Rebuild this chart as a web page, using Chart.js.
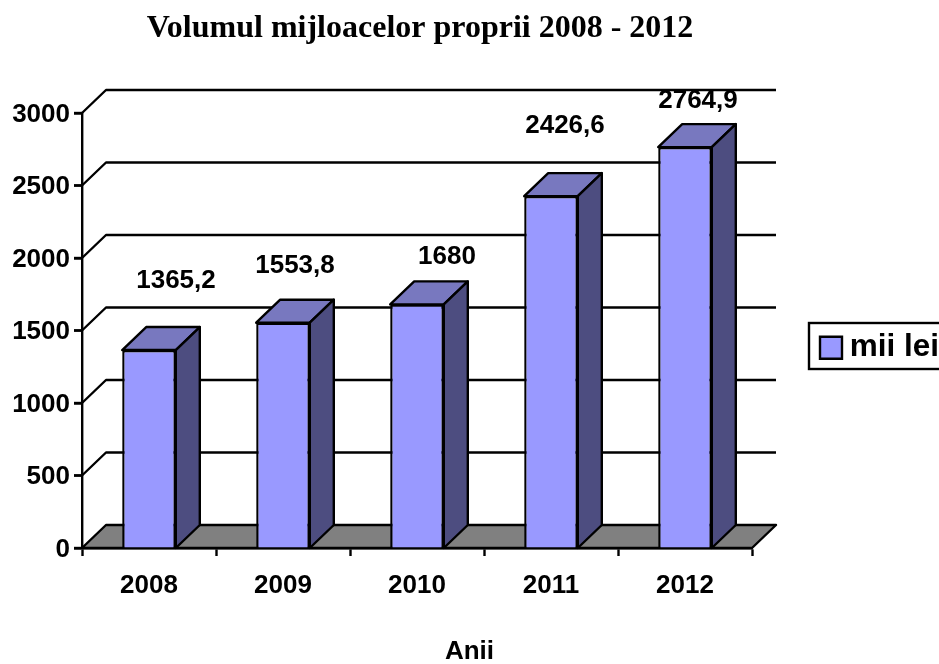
<!DOCTYPE html>
<html>
<head>
<meta charset="utf-8">
<title>Volumul mijloacelor proprii</title>
<script src="https://cdn.jsdelivr.net/npm/chart.js@4"></script>
<style>
  html, body { margin: 0; padding: 0; background: #fff; overflow: hidden; }
  canvas { display: block; }
</style>
</head>
<body>
<canvas id="myChart" width="939" height="664"></canvas>
<script>
var years = ["2008", "2009", "2010", "2011", "2012"];
var values = [1365.2, 1553.8, 1680, 2426.6, 2764.9];
var seriesName = "mii lei";
var chartTitle = "Volumul mijloacelor proprii 2008 - 2012";
var axisTitle = "Anii";

// the value labels sit away from the bars in the original
var labelShiftX = [27, 12, 30, 14, 13];
var labelShiftY = [-69, -57, -48, -70, -46];

var depthX = 24;
var depthY = 23;
var tickLen = 8;
var lineW = 2.4;
var arial = "'Liberation Sans', Arial, sans-serif";

function poly(ctx, pts, fill) {
  ctx.beginPath();
  ctx.moveTo(pts[0][0], pts[0][1]);
  for (var i = 1; i < pts.length; i++) ctx.lineTo(pts[i][0], pts[i][1]);
  if (fill) {
    ctx.closePath();
    ctx.fillStyle = fill;
    ctx.fill();
  }
  ctx.strokeStyle = "#000";
  ctx.lineWidth = lineW;
  ctx.lineJoin = "round";
  ctx.stroke();
}

var threeD = {
  id: "threeD",
  // put title, axis title and legend where the original has them
  afterLayout: function (chart) {
    chart.titleBlock.left = 0;
    chart.titleBlock.right = 840;
    var sub = chart.boxes.find(function (b) { return b.options.text === axisTitle; });
    sub.left = 0;
    sub.right = 939;
    sub.top = 636.4;
    sub.bottom = 667.6;
    var lg = chart.legend;
    lg.left = 809;
    lg.top = 321;
    lg.right = 939;
    lg.bottom = 369;
  },
  // back wall and floor go under the axes
  beforeDraw: function (chart) {
    var ctx = chart.ctx, a = chart.chartArea, y = chart.scales.y;
    ctx.save();
    poly(ctx, [
      [a.left, a.bottom], [a.left + depthX, a.bottom - depthY],
      [a.right + depthX, a.bottom - depthY], [a.right, a.bottom]
    ], "#808080");
    y.ticks.forEach(function (t) {
      var py = y.getPixelForValue(t.value);
      poly(ctx, [[a.left - tickLen, py], [a.left, py]]);
      if (t.value === 0) return;
      poly(ctx, [[a.left, py], [a.left + depthX, py - depthY], [a.right + depthX, py - depthY]]);
    });
    ctx.restore();
  },
  beforeDatasetsDraw: function (chart) {
    var ctx = chart.ctx, base = chart.scales.y.getPixelForValue(0);
    ctx.save();
    chart.getDatasetMeta(0).data.forEach(function (bar) {
      var l = bar.x - bar.width / 2, r = bar.x + bar.width / 2, t = bar.y;
      poly(ctx, [[l, t], [l + depthX, t - depthY], [r + depthX, t - depthY], [r, t]], "#7878bf");
      poly(ctx, [[r, t], [r + depthX, t - depthY], [r + depthX, base - depthY], [r, base]], "#4d4d80");
    });
    ctx.restore();
  },
  afterDraw: function (chart) {
    var ctx = chart.ctx, lg = chart.legend;
    ctx.save();
    ctx.strokeStyle = "#000";
    ctx.lineWidth = lineW;
    ctx.strokeRect(lg.left, lg.top + 2, lg.right - lg.left + 10, lg.bottom - lg.top - 2);
    // value labels
    ctx.font = "bold 26px " + arial;
    ctx.fillStyle = "#000";
    ctx.textAlign = "center";
    ctx.textBaseline = "middle";
    chart.getDatasetMeta(0).data.forEach(function (bar, i) {
      ctx.fillText(String(values[i]).replace(".", ","), bar.x + labelShiftX[i], bar.y + labelShiftY[i]);
    });
    ctx.restore();
  }
};

new Chart("myChart", {
  type: "bar",
  data: {
    labels: years,
    datasets: [{
      label: seriesName,
      data: values,
      backgroundColor: "#9999ff",
      borderColor: "#000",
      borderWidth: lineW,
      barPercentage: 0.4,
      categoryPercentage: 1
    }]
  },
  plugins: [threeD],
  options: {
    responsive: false,
    animation: false,
    layout: { padding: { top: 0, left: 0, right: 187, bottom: 0 } },
    plugins: {
      tooltip: { enabled: false },
      title: {
        display: true,
        text: chartTitle,
        color: "#000",
        font: { family: "'Liberation Serif', 'Times New Roman', serif", size: 32, weight: "bold" },
        padding: { top: 10, bottom: 64.6 }
      },
      subtitle: {
        display: true,
        position: "bottom",
        text: axisTitle,
        color: "#000",
        font: { family: arial, size: 26, weight: "bold" },
        padding: 0
      },
      legend: {
        position: "chartArea",
        align: "start",
        labels: {
          color: "#000",
          font: { family: arial, size: 31.5, weight: "bold" },
          boxWidth: 22,
          boxHeight: 22,
          padding: 11,
          textAlign: "right"
        }
      }
    },
    scales: {
      x: {
        afterFit: function (s) { s.height = 84.8; },
        grid: { drawOnChartArea: false, drawTicks: true, tickLength: tickLen, tickColor: "#000", tickWidth: lineW, offset: true },
        border: { color: "#000", width: lineW },
        ticks: { color: "#000", font: { family: arial, size: 26, weight: "bold" }, padding: 14, maxRotation: 0 }
      },
      y: {
        min: 0,
        max: 3000,
        afterFit: function (s) { s.width = 82; },
        grid: { drawOnChartArea: false, drawTicks: true, tickLength: tickLen, tickColor: "#000", tickWidth: lineW },
        border: { color: "#000", width: lineW },
        ticks: {
          stepSize: 500,
          color: "#000",
          font: { family: arial, size: 26, weight: "bold" },
          padding: 4,
          labelOffset: 1.5,
          callback: function (v) { return String(v); }
        }
      }
    }
  }
});
</script>
</body>
</html>
